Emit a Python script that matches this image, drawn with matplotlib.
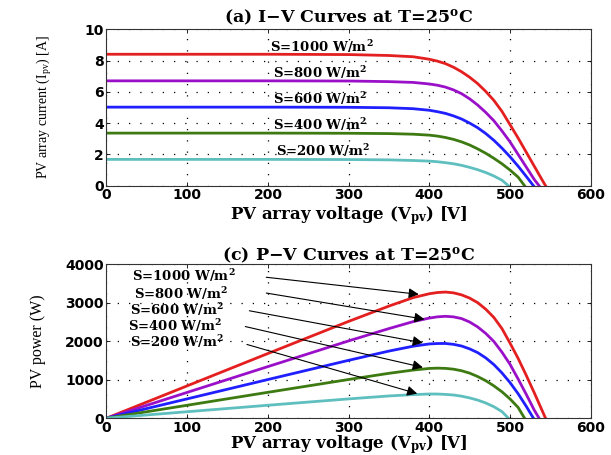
import numpy as np
import matplotlib.pyplot as plt

plt.rcParams['mathtext.fontset'] = 'custom'
plt.rcParams['mathtext.rm'] = 'DejaVu Serif:bold'
plt.rcParams['mathtext.it'] = 'DejaVu Serif:bold'
plt.rcParams['mathtext.bf'] = 'DejaVu Serif:bold'

# Data (voltage in V, current in A)
irradiance = ['1000', '800', '600', '400', '200']
colors = ['#e31f1f', '#9a10c8', '#1f1fff', '#3d7a12', '#5fbfbf']

v_1000 = [0, 100, 200, 300, 350, 380, 400, 410, 420, 430, 440, 450, 460, 470, 480, 490, 500, 510, 520, 530, 540, 544]
i_1000 = [8.40, 8.40, 8.40, 8.38, 8.32, 8.24, 8.08, 7.96, 7.80, 7.57, 7.28, 6.93, 6.52, 6.02, 5.45, 4.75, 3.90, 3.05, 2.15, 1.25, 0.35, 0.0]

v_800 = [0, 100, 200, 300, 350, 380, 400, 410, 420, 430, 440, 450, 460, 470, 480, 490, 500, 510, 520, 530, 536]
i_800 = [6.70, 6.70, 6.70, 6.69, 6.65, 6.60, 6.50, 6.42, 6.30, 6.12, 5.88, 5.55, 5.15, 4.68, 4.15, 3.50, 2.80, 2.00, 1.20, 0.40, 0.0]

v_600 = [0, 100, 200, 300, 350, 380, 400, 410, 420, 430, 440, 450, 460, 470, 480, 490, 500, 510, 520, 529]
i_600 = [5.02, 5.02, 5.02, 5.01, 4.98, 4.92, 4.82, 4.73, 4.62, 4.46, 4.26, 4.00, 3.70, 3.33, 2.90, 2.40, 1.85, 1.25, 0.60, 0.0]

v_400 = [0, 100, 200, 300, 350, 380, 400, 410, 420, 430, 440, 450, 460, 470, 480, 490, 500, 510, 518]
i_400 = [3.36, 3.36, 3.36, 3.35, 3.33, 3.29, 3.23, 3.17, 3.08, 2.96, 2.80, 2.60, 2.35, 2.07, 1.75, 1.40, 1.00, 0.55, 0.0]

v_200 = [0, 100, 200, 300, 350, 380, 400, 410, 420, 430, 440, 450, 460, 470, 480, 490, 498]
i_200 = [1.68, 1.68, 1.68, 1.67, 1.65, 1.61, 1.57, 1.53, 1.47, 1.40, 1.30, 1.17, 1.02, 0.84, 0.62, 0.35, 0.0]

volts = [v_1000, v_800, v_600, v_400, v_200]
currents = [i_1000, i_800, i_600, i_400, i_200]

# label positions (data coords)
iv_label_v = [203, 206, 206, 206, 210]
iv_label_i = [8.9, 7.25, 5.59, 3.92, 2.27]
pv_label_v = [31, 34, 29, 27, 29]
pv_label_p = [3700, 3250, 2810, 2410, 2000]
arrow_start = [(198, 3660), (198, 3250), (177, 2790), (172, 2380), (174, 1915)]
arrow_end = [(387, 3217), (394, 2570), (392, 1957), (392, 1319), (385, 638)]

fig = plt.figure(figsize=(6.11, 4.55), dpi=100)
ax1 = fig.add_axes([0.1743, 0.5919, 0.7925, 0.3439])
ax2 = fig.add_axes([0.1743, 0.0809, 0.7925, 0.3385])

txt_font = dict(family='DejaVu Serif', weight='bold', size=9.5)

for v, i, c in zip(volts, currents, colors):
    v = np.array(v, dtype=float)
    i = np.array(i, dtype=float)
    ax1.plot(v, i, color=c, lw=2)
    ax2.plot(v, v * i, color=c, lw=2)

for k, s in enumerate(irradiance):
    ax1.text(iv_label_v[k], iv_label_i[k], 'S=' + s + ' W/m$^\\mathrm{2}$', va='center', **txt_font)
    ax2.text(pv_label_v[k], pv_label_p[k], 'S=' + s + ' W/m$^\\mathrm{2}$', va='center', **txt_font)
    ax2.annotate('', xy=arrow_end[k], xytext=arrow_start[k],
                 arrowprops=dict(arrowstyle='-|>', color='black', lw=0.8,
                                 mutation_scale=15, shrinkA=0, shrinkB=0))

ax1.set_xlim(0, 600)
ax1.set_ylim(0, 10)
ax1.set_yticks([0, 2, 4, 6, 8, 10])
ax2.set_xlim(0, 600)
ax2.set_ylim(0, 4000)
ax2.set_yticks([0, 1000, 2000, 3000, 4000])

for ax in (ax1, ax2):
    ax.set_xticks([0, 100, 200, 300, 400, 500, 600])
    ax.grid(True, color='black', linestyle=(0, (1, 8)), lw=0.9)
    ax.tick_params(direction='in', top=True, right=True, length=3, width=0.6, pad=2)
    for lab in ax.get_xticklabels() + ax.get_yticklabels():
        lab.set_fontfamily('DejaVu Sans')
        lab.set_fontweight('bold')
        lab.set_fontsize(10)
    for sp in ax.spines.values():
        sp.set_linewidth(0.8)
        sp.set_color('#333333')

ax1.set_xlabel('PV array voltage (V$_\\mathrm{pv}$) [V]', family='DejaVu Serif',
               weight='bold', size=12, labelpad=1)
ax2.set_xlabel('PV array voltage (V$_\\mathrm{pv}$) [V]', family='DejaVu Serif',
               weight='bold', size=12, labelpad=-1)

ax1.set_title('(a) I\u2212V Curves at T=25$^\\mathrm{o}$C', family='DejaVu Serif',
              weight='bold', size=12.5, pad=5)
ax2.set_title('(c) P\u2212V Curves at T=25$^\\mathrm{o}$C', family='DejaVu Serif',
              weight='bold', size=12.5, pad=3)
ax1.set_ylabel('PV array current (I$_{\\mathregular{pv}}$) [A]', family='Liberation Serif', size=10)
ax2.set_ylabel('PV power (W)', family='Liberation Serif', size=11.5)
ax1.yaxis.set_label_coords(-0.108, 0.5)
ax2.yaxis.set_label_coords(-0.125, 0.5)

fig.savefig('out.png', dpi=100)
